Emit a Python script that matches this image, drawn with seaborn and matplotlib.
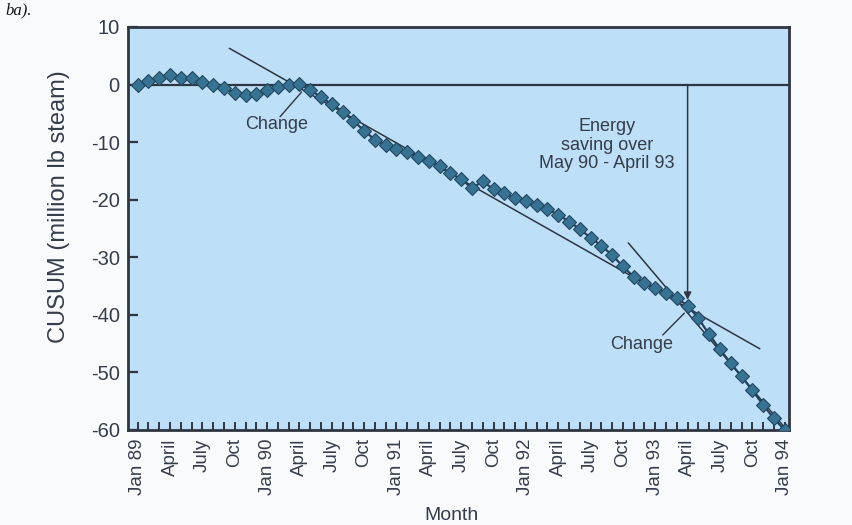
import numpy as np
import pandas as pd
import matplotlib
matplotlib.use("Agg")
import matplotlib.pyplot as plt
import seaborn as sns

# Monthly CUSUM of steam use, Jan 89 .. Jan 94 (million lb steam)
month_index = list(range(61))
cusum = [0.0, 0.7, 1.2, 1.6, 1.1, 1.2, 0.4, 0.0, -0.6, -1.4,
         -1.8, -1.6, -0.9, -0.4, 0.0, 0.1, -0.9, -2.2, -3.4, -4.7,
         -6.3, -8.0, -9.6, -10.5, -11.2, -11.8, -12.6, -13.3, -14.2, -15.4,
         -16.4, -18.0, -16.8, -18.2, -18.9, -19.7, -20.2, -20.9, -21.6, -22.6,
         -23.8, -25.1, -26.6, -28.0, -29.6, -31.6, -33.4, -34.4, -35.3, -36.2,
         -37.1, -38.4, -40.6, -43.4, -46.0, -48.4, -50.7, -53.1, -55.6, -58.0,
         -60.0]

tick_positions = list(range(0, 61, 3))
tick_labels = ["Jan 89", "April", "July", "Oct",
               "Jan 90", "April", "July", "Oct",
               "Jan 91", "April", "July", "Oct",
               "Jan 92", "April", "July", "Oct",
               "Jan 93", "April", "July", "Oct",
               "Jan 94"]

# Trend lines for the two periods after each change
trend_mid_x = [8.5, 57.7]
trend_mid_y = [6.3, -45.9]
trend_end_x = [45.5, 60.2]
trend_end_y = [-27.5, -60.0]

# Change points (April 90 and April 93)
change_1 = (15.2, -1.0)
change_2 = (51.0, -38.4)

df = pd.DataFrame({"month": month_index, "cusum": cusum})

sns.set_style("ticks")
plt.rcParams["font.family"] = ["Liberation Sans", "DejaVu Sans"]

ink = "#2f3640"
text_col = "#353c4a"

fig = plt.figure(figsize=(8.52, 5.25), dpi=100, facecolor="#f9fafc")
ax = fig.add_axes([0.1502, 0.181, 0.7758, 0.7676])
ax.set_facecolor("#bddff8")

# Zero reference line
ax.axhline(0, color=ink, lw=1.6, zorder=2)

# Fitted trend lines
ax.plot(trend_mid_x, trend_mid_y, color=ink, lw=1.1, zorder=2)
ax.plot(trend_end_x, trend_end_y, color=ink, lw=1.1, zorder=2)

sns.lineplot(data=df, x="month", y="cusum", ax=ax, color="#24405a", lw=1.6,
             marker="D", markersize=7, markerfacecolor="#367292",
             markeredgecolor="#23465f", markeredgewidth=0.8, zorder=3)

ax.set_xlim(-0.9, 60.4)
ax.set_ylim(-60, 10)

ax.set_xticks(tick_positions)
ax.set_xticklabels(tick_labels, rotation=90, fontsize=13.5, color=text_col)
ax.set_xticks(month_index, minor=True)
ax.set_yticks(list(range(-60, 11, 10)))
ax.set_yticklabels([str(v) for v in range(-60, 11, 10)], fontsize=14.5, color=text_col)

ax.tick_params(axis="x", which="both", direction="in", length=6, width=1.4,
               color=ink, pad=6)
ax.tick_params(axis="y", direction="in", length=7, width=1.6, color=ink, pad=6)

for s in ax.spines.values():
    s.set_visible(True)
    s.set_color(ink)
    s.set_linewidth(2.0)

ax.set_xlabel("Month", fontsize=14, color=text_col)
ax.xaxis.set_label_coords(0.49, -0.19)
ax.set_ylabel("CUSUM (million lb steam)", fontsize=17, color=text_col)
ax.yaxis.set_label_coords(-0.088, 0.553)

# Energy saving arrow down to the second change point
ax.annotate("", xy=(change_2[0], change_2[1] + 1.0), xytext=(change_2[0], 0),
            arrowprops=dict(arrowstyle="-|>", color=ink, lw=1.1,
                            mutation_scale=11, shrinkA=0, shrinkB=0), zorder=4)
ax.text(43.5, -10.5, "Energy\nsaving over\nMay 90 - April 93", ha="center",
        va="center", fontsize=13, color=text_col, linespacing=1.15)

# Change labels with leader lines
ax.plot([13.2, 15.2], [-5.6, -1.3], color=ink, lw=1.0, zorder=2)
ax.text(12.9, -7.0, "Change", ha="center", va="center", fontsize=13, color=text_col)
ax.plot([48.7, 50.7], [-43.5, -39.7], color=ink, lw=1.0, zorder=2)
ax.text(46.75, -45.2, "Change", ha="center", va="center", fontsize=13, color=text_col)

fig.text(0.006, 1 - 14 / 525, "ba).", fontsize=12, style="italic",
         family="Liberation Serif", color="#111111", ha="left", va="baseline")

fig.savefig("out.png", dpi=100, facecolor=fig.get_facecolor())
